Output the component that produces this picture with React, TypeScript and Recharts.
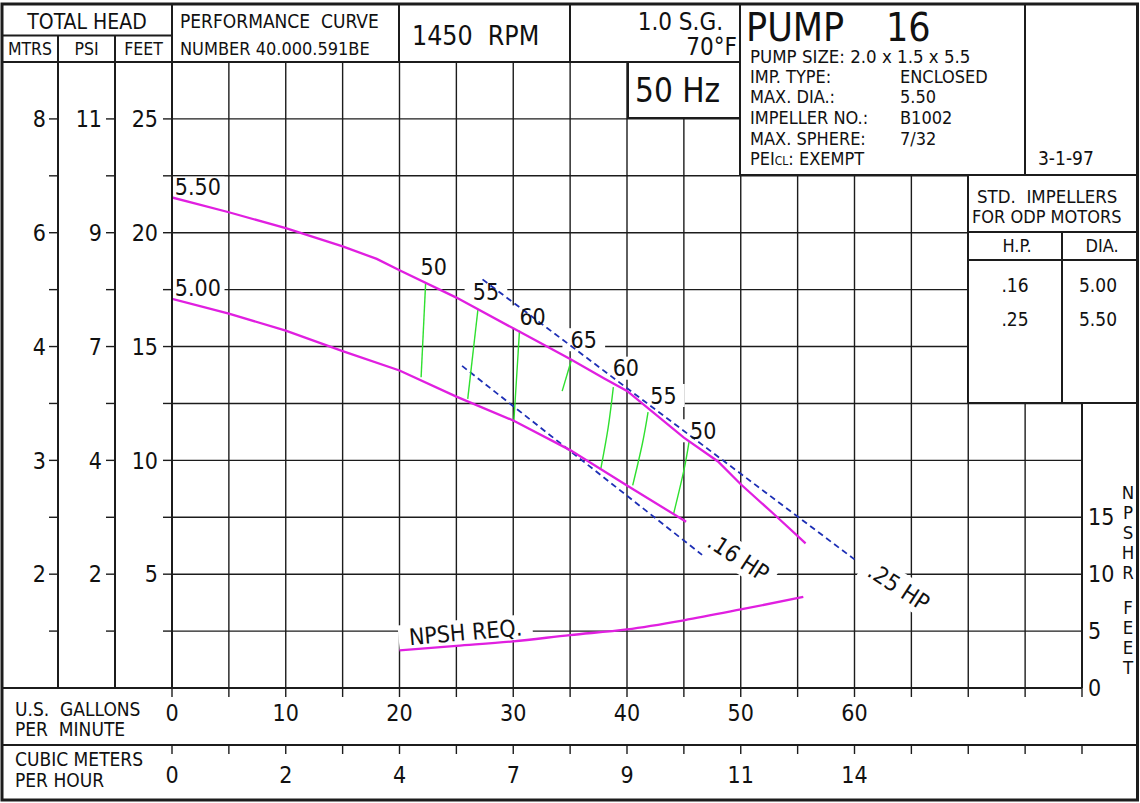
import React from 'react';
import { ComposedChart, Line, Scatter, XAxis, YAxis, CartesianGrid } from 'recharts';

const FONT = "'DejaVu Sans Condensed', 'DejaVu Sans', sans-serif";
const INK = '#1c1c1c';
const PINK = '#e01fe0';
const BLUE = '#1d2fb5';
const GREEN = '#2fe02f';

// axes
const gpmTicks = [0, 5, 10, 15, 20, 25, 30, 35, 40, 45, 50, 55, 60, 65, 70, 75, 80];
const gpmLabels: Record<number, string> = { 0: '0', 10: '10', 20: '20', 30: '30', 40: '40', 50: '50', 60: '60' };
const m3Labels: Record<number, string> = { 0: '0', 10: '2', 20: '4', 30: '7', 40: '9', 50: '11', 60: '14' };
const feetTicks = [0, 2.5, 5, 7.5, 10, 12.5, 15, 17.5, 20, 22.5, 25, 27.5];
const feetLabels: Record<number, string> = { 5: '5', 10: '10', 15: '15', 20: '20', 25: '25' };
const psiLabels: Record<number, string> = { 5: '2', 10: '4', 15: '7', 20: '9', 25: '11' };
const mtrsLabels: Record<number, string> = { 5: '2', 10: '3', 15: '4', 20: '6', 25: '8' };
const npshTicks = [0, 5, 10, 15];

// impeller curves (GPM vs feet)
const flow550 = [0, 5, 10, 15, 18, 20, 25, 30, 35, 38, 40, 45, 48, 50, 53, 55.7];
const head550 = [21.55, 20.9, 20.2, 19.4, 18.85, 18.35, 17.15, 15.8, 14.45, 13.6, 13.05, 11.0, 9.95, 8.95, 7.6, 6.35];
const flow500 = [0, 5, 10, 15, 20, 25, 30, 35, 40, 45.2];
const head500 = [17.1, 16.45, 15.7, 14.8, 13.95, 12.8, 11.75, 10.45, 8.9, 7.3];

// NPSH required (feet)
const npshFlow = [20, 25, 30, 35, 40, 45, 50, 55.5];
const npshReq = [3.3, 3.7, 4.1, 4.65, 5.15, 5.95, 6.9, 8.0];

// horsepower lines
const hp16Flow = [25.5, 46.6];
const hp16Head = [14.15, 5.85];
const hp25Flow = [27.3, 60];
const hp25Head = [17.95, 5.65];

// iso-efficiency lines
const isoFlow = [
  [22.3, 21.9],
  [26.9, 26.0],
  [30.55, 30.05],
  [35.1, 34.3],
  [38.8, 38.35, 37.7],
  [41.85, 41.35, 40.5],
  [45.45, 45.0, 44.1],
];
const isoHead = [
  [17.82, 13.65],
  [16.65, 12.7],
  [15.7, 11.68],
  [14.39, 13.04],
  [13.22, 11.46, 9.64],
  [12.12, 10.73, 8.9],
  [10.8, 9.56, 7.66],
];

// curve labels
const labelText = ['5.50', '5.00', '50', '55', '60', '65', '60', '55', '50', '.16 HP', '.25 HP', 'NPSH REQ.'];
const labelFlow = [0.25, 0.25, 23.0, 27.6, 31.7, 36.2, 39.9, 43.2, 46.7, 49.8, 63.9, 25.8];
const labelHead = [22.0, 17.6, 18.5, 17.4, 16.3, 15.3, 14.05, 12.85, 11.3, 5.75, 4.45, 2.46];

const pts = (xs: number[], ys: number[], key = 'ft') => xs.map((x, i) => ({ gpm: x, [key]: ys[i] }));

const labels = labelText.map((t, i) => ({ gpm: labelFlow[i], ft: labelHead[i], text: t }));

const charW = (c: string) => {
  if (c === '.' || c === ' ') return 0.29;
  if (/[0-9]/.test(c)) return 0.58;
  if (c === 'M' || c === 'Q' || c === 'O') return 0.72;
  return 0.64;
};
const textW = (t: string, size: number) => t.split('').reduce((s, c) => s + charW(c), 0) * size;

const LABEL_SIZE = 23;

const labelStyle = (t: string) => {
  if (t === '.16 HP' || t === '.25 HP') return { angle: 33, anchor: 'middle', padX: 7, padY: 6 };
  if (t === 'NPSH REQ.') return { angle: -5, anchor: 'middle', padX: 8, padY: 4 };
  if (t === '5.50' || t === '5.00') return { angle: 0, anchor: 'start', padX: 3, padY: 2 };
  return { angle: 0, anchor: 'middle', padX: 8, padY: 3 };
};

// white knock-out behind a label (kept under the curves via zIndex)
const LabelBox = (props: any) => {
  const { cx, cy, payload } = props;
  if (cx == null || cy == null || !payload) return null;
  const st = labelStyle(payload.text);
  const w = textW(payload.text, LABEL_SIZE);
  const h = LABEL_SIZE * 0.74;
  const x0 = st.anchor === 'start' ? 0 : -w / 2;
  return (
    <g transform={`translate(${cx},${cy}) rotate(${st.angle})`}>
      <rect x={x0 - st.padX} y={-h / 2 - st.padY} width={w + st.padX * 2} height={h + st.padY * 2} fill="#fff" />
    </g>
  );
};

const LabelText = (props: any) => {
  const { cx, cy, payload } = props;
  if (cx == null || cy == null) return null;
  const st = labelStyle(payload.text);
  return (
    <g transform={`translate(${cx},${cy}) rotate(${st.angle})`}>
      <text
        x={0}
        y={0}
        dy="0.36em"
        textAnchor={st.anchor}
        fontSize={LABEL_SIZE}
        fontFamily={FONT}
        fill="#111"
        style={{ whiteSpace: 'pre' }}
      >
        {payload.text}
      </text>
    </g>
  );
};

const tickStyle = { fill: '#111', fontSize: 23, fontFamily: FONT };
const lineStyle = { stroke: INK, strokeWidth: 1.4 };
const axisStyle = { stroke: INK, strokeWidth: 2 };

const T = (p: any) => (
  <text fontFamily={FONT} fill="#111" style={{ whiteSpace: 'pre' }} {...p} />
);

const npshLetters = ['N', 'P', 'S', 'H', 'R', 'F', 'E', 'E', 'T'];
const npshLetterY = [492, 512, 532, 552, 572, 607, 627, 647, 667];

function Frame() {
  return (
    <svg width={1140} height={803} style={{ position: 'absolute', left: 0, top: 0, pointerEvents: 'none' }}>
      <g stroke={INK} strokeWidth={2} fill="#fff">
        <rect x={740} y={4} width={398} height={171} />
        <rect x={968} y={175} width={170} height={228} />
        <rect x={628} y={62} width={112} height={56} />
      </g>
      <g stroke={INK} strokeWidth={2}>
        <line x1={2} y1={35.5} x2={172} y2={35.5} />
        <line x1={2} y1={62} x2={740} y2={62} />
        <line x1={58} y1={35.5} x2={58} y2={688} />
        <line x1={115} y1={35.5} x2={115} y2={688} />
        <line x1={172} y1={4} x2={172} y2={688} />
        <line x1={399} y1={4} x2={399} y2={62} />
        <line x1={570} y1={4} x2={570} y2={62} />
        <line x1={1025} y1={4} x2={1025} y2={175} />
        <line x1={968} y1={232} x2={1138} y2={232} />
        <line x1={968} y1={260} x2={1138} y2={260} />
        <line x1={1062} y1={232} x2={1062} y2={403} />
        <line x1={2} y1={688} x2={1082} y2={688} />
        <line x1={2} y1={745} x2={1138} y2={745} />
      </g>
      <rect x={2} y={4} width={1135.5} height={796} fill="none" stroke={INK} strokeWidth={3} />

      <T x={87} y={29} fontSize={21} textAnchor="middle">TOTAL HEAD</T>
      <T x={30} y={55} fontSize={17.5} textAnchor="middle">MTRS</T>
      <T x={86.5} y={55} fontSize={17.5} textAnchor="middle">PSI</T>
      <T x={143.5} y={55} fontSize={17.5} textAnchor="middle">FEET</T>
      <T x={180} y={28} fontSize={19}>PERFORMANCE  CURVE</T>
      <T x={180} y={55} fontSize={18}>NUMBER 40.000.591BE</T>
      <T x={412} y={45} fontSize={26.5}>1450  RPM</T>
      <T x={723} y={30} fontSize={24} textAnchor="end">1.0 S.G.</T>
      <T x={737} y={55} fontSize={24} textAnchor="end">70°F</T>
      <T x={635} y={102} fontSize={33}>50 Hz</T>

      <T x={746} y={41} fontSize={39}>PUMP</T>
      <T x={886} y={41} fontSize={39}>16</T>
      <T x={750} y={63} fontSize={18.5}>PUMP SIZE: 2.0 x 1.5 x 5.5</T>
      <T x={750} y={83} fontSize={18}>IMP. TYPE:</T>
      <T x={900} y={83} fontSize={18}>ENCLOSED</T>
      <T x={750} y={103} fontSize={18}>MAX. DIA.:</T>
      <T x={900} y={103} fontSize={18}>5.50</T>
      <T x={750} y={124} fontSize={18}>IMPELLER NO.:</T>
      <T x={900} y={124} fontSize={18}>B1002</T>
      <T x={750} y={144.5} fontSize={18}>MAX. SPHERE:</T>
      <T x={900} y={144.5} fontSize={18}>7/32</T>
      <T x={750} y={165} fontSize={18}>
        PEI<tspan fontSize={12}>CL</tspan>: EXEMPT
      </T>
      <T x={1038} y={165} fontSize={19}>3-1-97</T>

      <T x={977} y={203} fontSize={18.5}>STD.  IMPELLERS</T>
      <T x={972} y={223} fontSize={18}>FOR ODP MOTORS</T>
      <T x={1017} y={252} fontSize={18} textAnchor="middle">H.P.</T>
      <T x={1102} y={252} fontSize={18} textAnchor="middle">DIA.</T>
      <T x={1015} y={292} fontSize={19} textAnchor="middle">.16</T>
      <T x={1015} y={326} fontSize={19} textAnchor="middle">.25</T>
      <T x={1098} y={292} fontSize={19} textAnchor="middle">5.00</T>
      <T x={1098} y={326} fontSize={19} textAnchor="middle">5.50</T>

      <T x={15} y={716} fontSize={19}>U.S.  GALLONS</T>
      <T x={15} y={736} fontSize={19}>PER  MINUTE</T>
      <T x={15} y={766} fontSize={19}>CUBIC METERS</T>
      <T x={15} y={787} fontSize={19}>PER HOUR</T>

      {npshLetters.map((l, i) => (
        <T key={i} x={1128} y={npshLetterY[i]} dy="0.36em" fontSize={18.5} textAnchor="middle">{l}</T>
      ))}
    </svg>
  );
}

export default function App() {
  return (
    <div style={{ position: 'absolute', left: 0, top: 0, width: 1140, height: 803, background: '#fff' }}>
      <ComposedChart width={1140} height={803} margin={{ top: 62, right: 2, bottom: 3, left: 2 }}>
        <CartesianGrid stroke={INK} strokeWidth={1.4} />
        <XAxis
          dataKey="gpm"
          type="number"
          domain={[0, 80]}
          allowDataOverflow
          ticks={gpmTicks}
          interval={0}
          height={57}
          tickSize={9}
          tickMargin={8}
          tick={tickStyle}
          tickLine={lineStyle}
          axisLine={axisStyle}
          tickFormatter={(v: number) => gpmLabels[v] ?? ''}
        />
        <XAxis
          xAxisId="m3"
          dataKey="gpm"
          type="number"
          domain={[0, 80]}
          allowDataOverflow
          ticks={gpmTicks}
          interval={0}
          height={55}
          tickSize={9}
          tickMargin={13}
          tick={tickStyle}
          tickLine={lineStyle}
          axisLine={axisStyle}
          tickFormatter={(v: number) => m3Labels[v] ?? ''}
        />
        <YAxis
          type="number"
          domain={[0, 27.5]}
          allowDataOverflow
          ticks={feetTicks}
          interval={0}
          width={57}
          tickSize={9}
          tickMargin={5}
          tick={tickStyle}
          tickLine={lineStyle}
          axisLine={axisStyle}
          tickFormatter={(v: number) => feetLabels[v] ?? ''}
        />
        <YAxis
          yAxisId="p1"
          type="number"
          domain={[0, 27.5]}
          allowDataOverflow
          ticks={feetTicks}
          interval={0}
          width={57}
          tickSize={9}
          tickMargin={4}
          tick={tickStyle}
          tickLine={lineStyle}
          axisLine={axisStyle}
          tickFormatter={(v: number) => psiLabels[v] ?? ''}
        />
        <YAxis
          yAxisId="p2"
          type="number"
          domain={[0, 27.5]}
          allowDataOverflow
          ticks={feetTicks}
          interval={0}
          width={56}
          tickSize={9}
          tickMargin={3}
          tick={tickStyle}
          tickLine={lineStyle}
          axisLine={axisStyle}
          tickFormatter={(v: number) => mtrsLabels[v] ?? ''}
        />
        <YAxis
          yAxisId="npsh"
          orientation="right"
          type="number"
          domain={[0, 55]}
          allowDataOverflow
          ticks={npshTicks}
          interval={0}
          width={56}
          tickSize={0}
          tickMargin={6}
          tick={tickStyle}
          tickLine={false}
          axisLine={axisStyle}
        />

        <Scatter data={labels} dataKey="ft" shape={LabelBox} zIndex={-50} isAnimationActive={false} />
        <Line data={pts(hp16Flow, hp16Head)} dataKey="ft" type="linear" stroke={BLUE} strokeWidth={1.8}
          strokeDasharray="6 4" dot={false} isAnimationActive={false} />
        <Line data={pts(hp25Flow, hp25Head)} dataKey="ft" type="linear" stroke={BLUE} strokeWidth={1.8}
          strokeDasharray="6 4" dot={false} isAnimationActive={false} />
        {isoFlow.map((f, i) => (
          <Line key={i} data={pts(f, isoHead[i])} dataKey="ft" type="natural" stroke={GREEN} strokeWidth={1.4}
            dot={false} isAnimationActive={false} />
        ))}
        <Line data={pts(flow550, head550)} dataKey="ft" type="linear" stroke={PINK} strokeWidth={2.3}
          dot={false} isAnimationActive={false} />
        <Line data={pts(flow500, head500)} dataKey="ft" type="linear" stroke={PINK} strokeWidth={2.3}
          dot={false} isAnimationActive={false} />
        <Line data={pts(npshFlow, npshReq, 'npsh')} dataKey="npsh" yAxisId="npsh" type="monotone" stroke={PINK}
          strokeWidth={2.3} dot={false} isAnimationActive={false} />
        <Scatter data={labels} dataKey="ft" shape={LabelText} isAnimationActive={false} />
      </ComposedChart>
      <Frame />
    </div>
  );
}
